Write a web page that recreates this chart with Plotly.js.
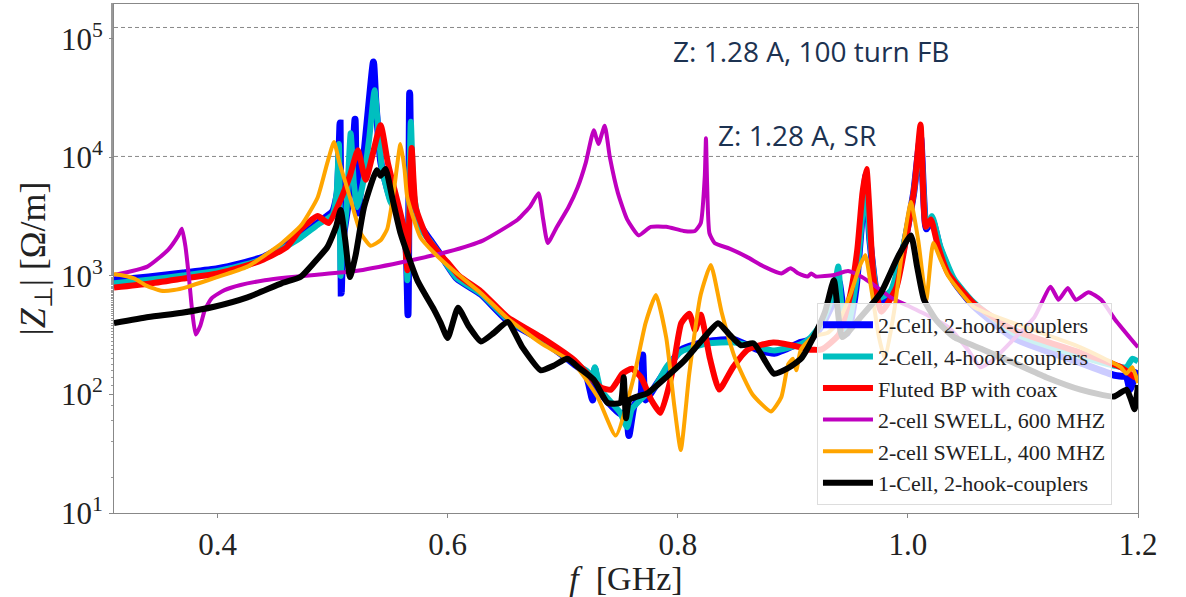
<!DOCTYPE html>
<html>
<head>
<meta charset="utf-8">
<script src="https://cdn.plot.ly/plotly-3.0.1.min.js"></script>
<style>html,body{margin:0;padding:0;background:#fff;}#chart{width:1186px;height:597px;}</style>
</head>
<body>
<div id="chart"></div>
<script>
// ---- Data (frequency in GHz, |Z_perp| in Ohm/m) ----
const seriesNames = ["2-Cell, 2-hook-couplers", "2-Cell, 4-hook-couplers", "Fluted BP with coax",
  "2-cell SWELL, 600 MHZ", "2-cell SWELL, 400 MHZ", "1-Cell, 2-hook-couplers"];

const blueF = [0.31,0.34,0.37,0.40,0.42,0.44,0.46,0.472,0.487,0.50,0.504,0.5065,0.5075,0.509,0.512,0.516,0.5195,0.5205,0.522,0.526,0.531,0.5355,0.5375,0.542,0.55,0.559,0.5635,0.5655,0.567,0.5685,0.572,0.577,0.585,0.594,0.608,0.629,0.652,0.681,0.71,0.72,0.726,0.728,0.731,0.74,0.75,0.755,0.7575,0.762,0.768,0.7695,0.772,0.782,0.803,0.826,0.849,0.87,0.884,0.907,0.915,0.925,0.935,0.94,0.944,0.948,0.955,0.96,0.9635,0.967,0.975,0.985,0.995,1.005,1.011,1.016,1.021,1.028,1.04,1.057,1.092,1.15,1.18,1.19,1.193,1.197,1.2];
const blueZ = [920,980,1060,1150,1270,1450,1850,2150,2800,3500,5000,19500,720,2000,3200,6000,21000,6000,3400,8000,25000,64000,30000,9000,4600,3000,2000,470,35000,6000,3500,2600,2000,1500,950,700,420,290,180,150,90,165,110,85,69,70,45,80,100,215,90,124,238,280,290,238,223,275,290,380,600,900,500,330,800,3000,7000,2000,600,700,1500,5000,15000,2500,3000,1700,900,560,300,185,145,140,110,140,160];

const cyanF = [0.31,0.34,0.37,0.40,0.42,0.44,0.46,0.472,0.487,0.50,0.5035,0.5055,0.507,0.5085,0.512,0.5157,0.5185,0.5215,0.527,0.532,0.5365,0.5395,0.543,0.55,0.559,0.5635,0.565,0.568,0.5705,0.5765,0.585,0.594,0.608,0.629,0.652,0.681,0.71,0.72,0.726,0.728,0.733,0.745,0.75,0.756,0.76,0.77,0.78,0.79,0.803,0.826,0.849,0.87,0.884,0.907,0.915,0.925,0.935,0.9395,0.942,0.947,0.955,0.96,0.9635,0.967,0.975,0.985,0.995,1.005,1.011,1.016,1.021,1.028,1.04,1.057,1.092,1.15,1.18,1.19,1.195,1.2];
const cyanZ = [870,930,1010,1100,1220,1400,1780,2100,2700,3300,5000,13000,1000,1800,3500,16000,6000,3800,6500,15000,37000,18000,8000,4300,3000,2000,920,20000,5000,2500,1950,1480,960,710,430,290,185,160,145,170,110,80,70,53,75,95,115,170,230,270,275,250,235,265,300,400,700,1200,600,340,900,3000,6500,2000,650,750,1600,5000,14000,2600,3200,1800,950,600,330,210,175,170,200,190];

const redF = [0.31,0.34,0.37,0.40,0.42,0.44,0.46,0.472,0.487,0.4966,0.507,0.515,0.522,0.5287,0.5417,0.548,0.556,0.562,0.565,0.5687,0.5722,0.5823,0.594,0.60,0.61,0.629,0.652,0.681,0.71,0.733,0.742,0.752,0.76,0.768,0.777,0.785,0.795,0.803,0.81,0.815,0.82,0.828,0.836,0.848,0.861,0.883,0.907,0.913,0.925,0.94,0.95,0.956,0.9605,0.964,0.967,0.97,0.977,0.99,1.0,1.006,1.011,1.0155,1.02,1.026,1.035,1.057,1.092,1.15,1.185,1.197,1.2];
const redZ = [800,860,950,1050,1180,1380,1750,2460,3200,2800,4400,7000,11500,6500,18700,9000,4400,2500,1120,12000,3800,2100,1500,1300,1000,740,450,305,195,115,110,150,165,140,90,70,150,400,480,350,470,200,110,170,240,275,250,240,240,320,700,1660,5000,8000,3000,1000,500,800,2500,6000,19000,2600,3000,1800,1050,590,350,225,170,140,140];

const purpleF = [0.31,0.339,0.357,0.366,0.369,0.372,0.375,0.378,0.381,0.385,0.389,0.395,0.406,0.42,0.441,0.46,0.484,0.52,0.559,0.60,0.631,0.661,0.672,0.679,0.683,0.687,0.695,0.705,0.713,0.72,0.727,0.731,0.7365,0.741,0.748,0.756,0.766,0.7765,0.79,0.805,0.815,0.82,0.8235,0.8245,0.8255,0.8275,0.832,0.845,0.86,0.875,0.89,0.898,0.905,0.913,0.916,0.92,0.936,0.948,0.96,0.975,0.985,1.0,1.02,1.035,1.052,1.063,1.075,1.09,1.11,1.124,1.131,1.139,1.146,1.157,1.168,1.18,1.2];
const purpleZ = [1020,1200,1660,2200,2500,1800,1000,500,320,380,520,650,760,840,920,970,1020,1100,1300,1600,2000,3000,3900,5000,3000,1900,2600,3800,5600,9000,17000,13000,18500,10000,5000,3000,2200,2600,2600,2400,2400,2800,7000,14500,6000,2300,1900,1700,1450,1200,1050,1160,1050,990,1050,990,1020,1100,980,780,660,560,450,370,240,170,200,280,450,810,630,790,630,730,630,430,250];

const orangeF = [0.31,0.32,0.328,0.338,0.351,0.362,0.374,0.397,0.426,0.456,0.473,0.487,0.4954,0.5012,0.506,0.5157,0.5244,0.533,0.5417,0.5475,0.5533,0.559,0.5625,0.5649,0.5765,0.5881,0.6055,0.6287,0.652,0.681,0.7098,0.7301,0.7461,0.762,0.772,0.781,0.79,0.797,0.8026,0.81,0.82,0.8287,0.838,0.85,0.865,0.881,0.89,0.896,0.90,0.903,0.907,0.918,0.93,0.939,0.95,0.958,0.963,0.968,0.975,0.98,0.988,0.995,1.0026,1.009,1.016,1.022,1.028,1.035,1.057,1.092,1.15,1.185,1.19,1.195,1.2];
const orangeZ = [1040,1000,950,830,750,760,810,960,1200,1900,2700,4600,9000,13500,9000,4400,2300,1800,2000,2500,5300,13000,8000,4600,2100,1570,1100,720,440,271,182,96,45,143,400,690,300,80,34,150,700,1240,500,200,100,72,95,180,200,160,240,310,330,400,700,1200,1500,800,300,200,500,1600,4200,2000,630,1900,1400,1000,550,400,250,170,150,170,125];

const blackF = [0.31,0.34,0.369,0.397,0.426,0.456,0.472,0.484,0.4954,0.503,0.507,0.511,0.5151,0.52,0.5273,0.5383,0.5417,0.546,0.552,0.559,0.5736,0.5881,0.594,0.60,0.609,0.618,0.629,0.64,0.652,0.665,0.681,0.692,0.704,0.715,0.727,0.739,0.75,0.753,0.755,0.758,0.774,0.79,0.805,0.82,0.835,0.845,0.855,0.866,0.8835,0.895,0.907,0.918,0.928,0.9357,0.943,0.959,0.9765,0.9913,1.0026,1.008,1.014,1.025,1.04,1.065,1.092,1.12,1.15,1.179,1.19,1.194,1.197,1.2];
const blackZ = [400,450,490,550,660,870,980,1300,1750,2600,3600,2000,980,1500,3800,7800,7000,8000,4500,2300,920,520,400,300,540,380,280,330,410,250,160,175,200,165,133,85,85,140,63,90,103,140,190,280,400,320,260,270,150,165,200,305,500,920,305,450,720,1450,2200,1200,630,420,305,240,185,140,110,96,110,90,75,120];

const refLevels = [1.25e5, 1.02e4];
const refLabels = ["Z: 1.28 A, 100 turn FB", "Z: 1.28 A, SR"];
const xTicks = [0.4, 0.6, 0.8, 1.0, 1.2];
const xTickText = ["0.4", "0.6", "0.8", "1.0", "1.2"];
const yTicks = [10, 100, 1000, 10000, 100000];
const yTickText = ["10<sup>1</sup>", "10<sup>2</sup>", "10<sup>3</sup>", "10<sup>4</sup>", "10<sup>5</sup>"];

// ---- Styles ----
const colors = ["#0000ff", "#00bfbf", "#ff0000", "#bf00bf", "#ffa500", "#000000"];
const widths = [7, 6, 6, 4, 4, 6];
const xs = [blueF, cyanF, redF, purpleF, orangeF, blackF];
const ys = [blueZ, cyanZ, redZ, purpleZ, orangeZ, blackZ];

const serif = "Liberation Serif, Times New Roman, serif";
const traces = seriesNames.map((n, i) => ({
  type: "scatter", mode: "lines", name: n, x: xs[i], y: ys[i],
  line: {color: colors[i], width: widths[i], shape: "spline", smoothing: 0.5}
}));

const shapes = refLevels.map(v => ({
  type: "line", xref: "paper", x0: 0, x1: 1, yref: "y", y0: v, y1: v,
  line: {color: "#888", width: 1, dash: "4px,3px"}, layer: "below"
}));

const annotations = [
  {xref: "x", x: 0.916, yref: "y", y: 4.9, text: refLabels[0], showarrow: false,
   font: {family: "Open Sans, sans-serif", size: 28, color: "#1c3251"}, xanchor: "center", yanchor: "middle"},
  {xref: "x", x: 0.9035, yref: "y", y: 4.19, text: refLabels[1], showarrow: false,
   font: {family: "Open Sans, sans-serif", size: 28, color: "#1c3251"}, xanchor: "center", yanchor: "middle"}
];

const layout = {
  width: 1186, height: 597,
  margin: {l: 114, r: 48, t: 4, b: 84},
  paper_bgcolor: "#fff", plot_bgcolor: "#fff",
  showlegend: true,
  legend: {x: 0.6865, y: 0.4126, xanchor: "left", yanchor: "top", itemwidth: 50,
    bgcolor: "rgba(255,255,255,0.8)", bordercolor: "#dddddd", borderwidth: 1,
    font: {family: serif, size: 22, color: "#222"}},
  xaxis: {range: [0.31, 1.2], tickvals: xTicks, ticktext: xTickText, ticks: "outside", ticklen: 4,
    tickcolor: "#888", linecolor: "#888", linewidth: 1, mirror: true, showgrid: false, zeroline: false,
    tickfont: {family: serif, size: 31, color: "#222"},
    title: {text: "<i>f</i>  [GHz]", font: {family: serif, size: 34, color: "#222"}, standoff: 6}},
  yaxis: {type: "log", range: [1, 5.295], tickvals: yTicks, ticktext: yTickText, ticks: "outside", ticklen: 4,
    tickcolor: "#888", linecolor: "#888", linewidth: 1, mirror: true, showgrid: false, zeroline: false,
    minor: {ticks: "outside", ticklen: 2, tickcolor: "#999", showgrid: false},
    tickfont: {family: serif, size: 31, color: "#222"},
    title: {text: "|<i>Z</i><sub>⊥</sub>| [Ω/m]", font: {family: serif, size: 36, color: "#222"}, standoff: 4}},
  shapes: shapes,
  annotations: annotations
};

Plotly.newPlot("chart", traces, layout, {displayModeBar: false, staticPlot: true});
</script>
</body>
</html>
